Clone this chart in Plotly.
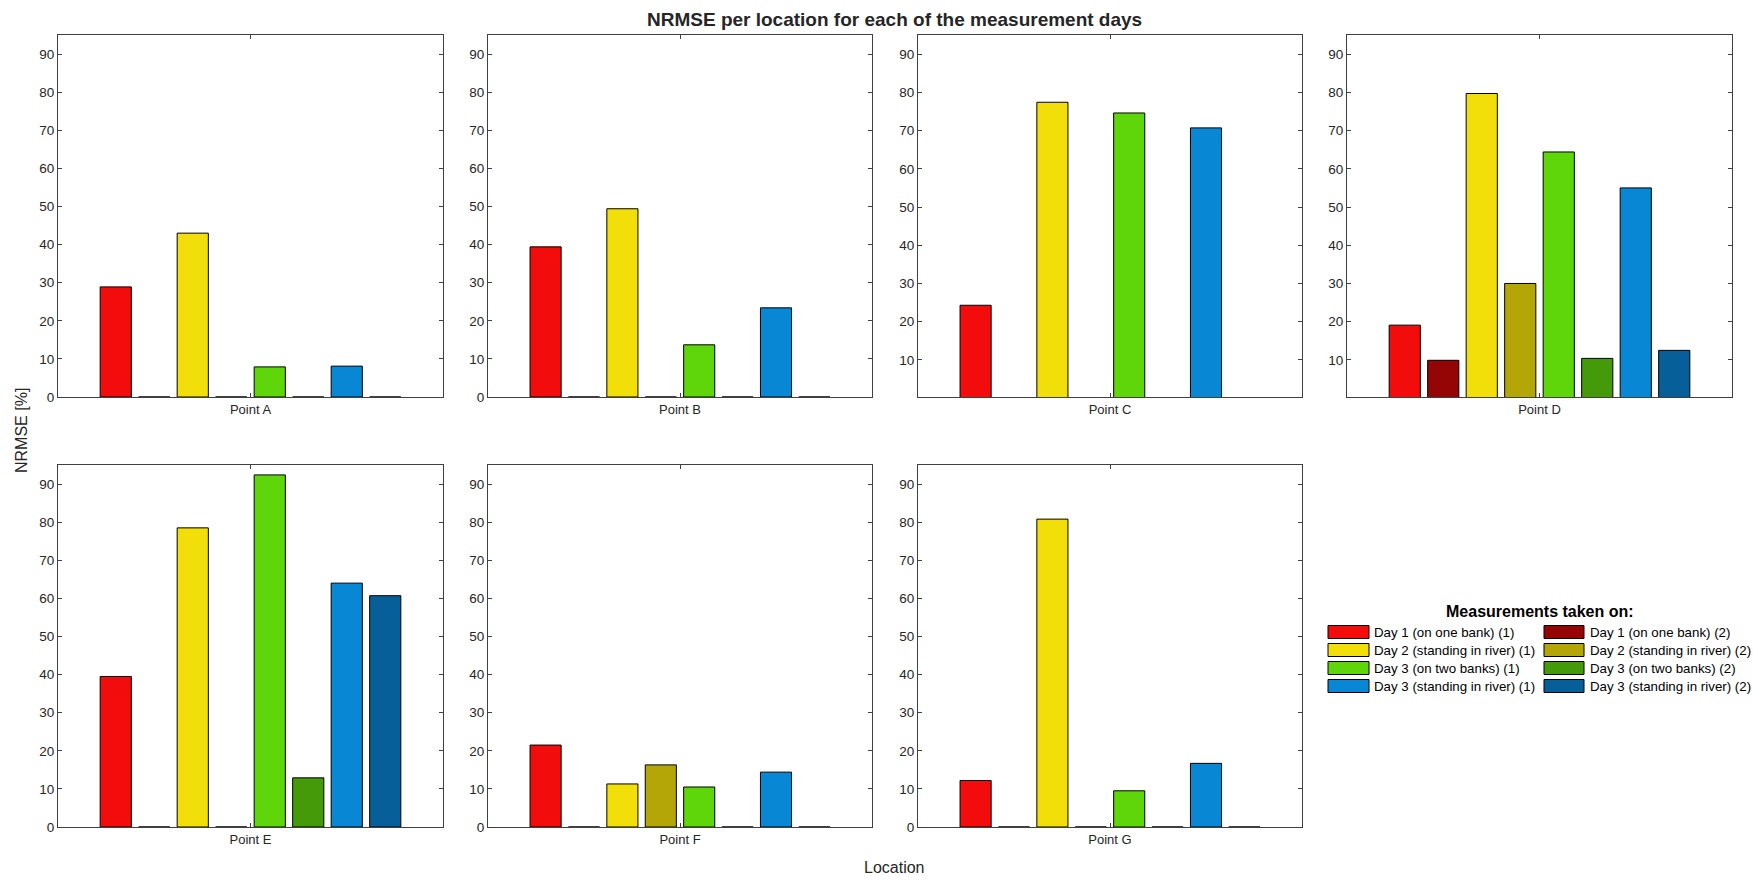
import plotly.graph_objects as go

W, H = 1753, 883

locations = ["Point A", "Point B", "Point C", "Point D", "Point E", "Point F", "Point G"]
series_names = [
    "Day 1 (on one bank) (1)", "Day 1 (on one bank) (2)",
    "Day 2 (standing in river) (1)", "Day 2 (standing in river) (2)",
    "Day 3 (on two banks) (1)", "Day 3 (on two banks) (2)",
    "Day 3 (standing in river) (1)", "Day 3 (standing in river) (2)",
]
series_colors = ["#F20C0C", "#960505", "#F2DF0A", "#B5A607",
                 "#5ED60A", "#459A0A", "#0887D4", "#075F99"]

# NRMSE [%] per location, one value per series (order as series_names)
vals_A = [28.9, 0, 43.0, 0, 7.9, 0, 8.1, 0]
vals_B = [39.4, 0, 49.4, 0, 13.7, 0, 23.4, 0]
vals_C = [24.3, None, 77.4, None, 74.6, None, 70.7, None]
vals_D = [19.1, 9.9, 79.7, 30.0, 64.4, 10.4, 55.0, 12.5]
vals_E = [39.5, 0, 78.5, 0, 92.4, 12.9, 64.0, 60.7]
vals_F = [21.5, 0, 11.3, 16.3, 10.5, 0, 14.4, 0]
vals_G = [12.2, 0, 80.8, 0, 9.5, 0, 16.7, 0]
all_vals = [vals_A, vals_B, vals_C, vals_D, vals_E, vals_F, vals_G]

ytick_full = [0, 10, 20, 30, 40, 50, 60, 70, 80, 90]
ytick_nozero = [10, 20, 30, 40, 50, 60, 70, 80, 90]

# panel pixel boxes (left, right, top, bottom)
col_x = [(58, 443), (488, 872), (918, 1302), (1347, 1732)]
row_y = [(35, 397), (465, 827)]


def fy(p):
    return 1 - p / H


fig = go.Figure()
FONT = "Liberation Sans, Arial, sans-serif"
AX_COLOR = "#404040"
TXT_COLOR = "#262626"

layout_axes = {}
for i, loc in enumerate(locations):
    r, c = divmod(i, 4)
    x0, x1 = col_x[c]
    ytop, ybot = row_y[r]
    xname = "x" if i == 0 else f"x{i+1}"
    yname = "y" if i == 0 else f"y{i+1}"
    for s in range(8):
        v = all_vals[i][s]
        fig.add_trace(go.Bar(
            x=[loc], y=[v], name=series_names[s], xaxis=xname, yaxis=yname,
            marker=dict(color=series_colors[s], line=dict(color="black", width=1)),
            showlegend=False, offsetgroup=str(s),
        ))
    nozero = loc in ("Point C", "Point D")
    layout_axes["xaxis" if i == 0 else f"xaxis{i+1}"] = dict(
        domain=[x0 / W, x1 / W], anchor=yname, type="category",
        range=[-0.5, 0.5], showline=True, linecolor=AX_COLOR, linewidth=1,
        mirror="ticks", ticks="inside", ticklen=4, tickcolor=AX_COLOR,
        tickfont=dict(family=FONT, size=13, color=TXT_COLOR), showgrid=False,
        zeroline=False, fixedrange=True, automargin=False,
    )
    layout_axes["yaxis" if i == 0 else f"yaxis{i+1}"] = dict(
        domain=[fy(ybot), fy(ytop)], anchor=xname,
        range=[0.3 if nozero else 0, 95],
        tickvals=ytick_nozero if nozero else ytick_full,
        showline=True, linecolor=AX_COLOR, linewidth=1,
        mirror="ticks", ticks="inside", ticklen=4, tickcolor=AX_COLOR,
        tickfont=dict(family=FONT, size=13.5, color=TXT_COLOR), showgrid=False,
        zeroline=False, fixedrange=True, automargin=False,
    )

annotations = [
    dict(text="<b>NRMSE per location for each of the measurement days</b>",
         x=895 / W, y=fy(19), xref="paper", yref="paper", showarrow=False,
         font=dict(family=FONT, size=19, color=TXT_COLOR), xanchor="center", yanchor="middle"),
    dict(text="NRMSE [%]", x=22 / W, y=fy(431), xref="paper", yref="paper",
         showarrow=False, textangle=-90,
         font=dict(family=FONT, size=16, color=TXT_COLOR), xanchor="center", yanchor="middle"),
    dict(text="Location", x=895 / W, y=fy(867), xref="paper", yref="paper",
         showarrow=False, font=dict(family=FONT, size=16, color=TXT_COLOR),
         xanchor="center", yanchor="middle"),
    dict(text="<b>Measurements taken on:</b>", x=1540 / W, y=fy(611),
         xref="paper", yref="paper", showarrow=False,
         font=dict(family=FONT, size=16, color="black"), xanchor="center", yanchor="middle"),
]

# custom two-column legend built from series names / colors
shapes = []
leg_cols = [(1328, 1369, 1372), (1544, 1584, 1588)]
leg_rows = [632, 650, 668, 686]
for s in range(8):
    col = s % 2
    row = s // 2
    sx0, sx1, tx = leg_cols[col]
    cy = leg_rows[row]
    shapes.append(dict(type="rect", xref="paper", yref="paper",
                       x0=sx0 / W, x1=sx1 / W, y0=fy(cy + 6.5), y1=fy(cy - 6.5),
                       fillcolor=series_colors[s], line=dict(color="black", width=1)))
    annotations.append(dict(text=series_names[s], x=tx / W, y=fy(cy),
                            xref="paper", yref="paper", showarrow=False,
                            font=dict(family=FONT, size=13.3, color="black"),
                            xanchor="left", yanchor="middle"))

fig.update_layout(
    width=W, height=H, margin=dict(l=0, r=0, t=0, b=0, autoexpand=False),
    paper_bgcolor="white", plot_bgcolor="white",
    barmode="group", bargap=0.2, bargroupgap=0.19,
    showlegend=False, annotations=annotations, shapes=shapes,
    **layout_axes,
)

fig.write_html("out.html")
